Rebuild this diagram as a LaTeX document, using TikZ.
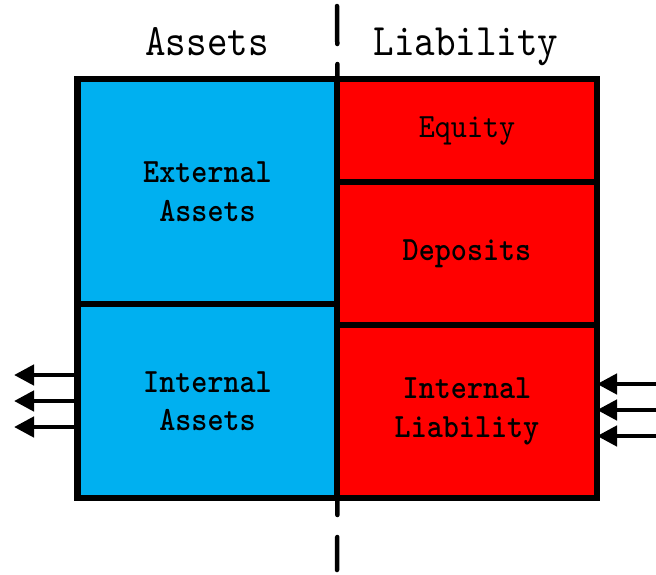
\documentclass[tikz,border=0pt]{standalone}
\usepackage{fontspec}
\newfontfamily\sheetfont{lmmono10-regular.otf}[BoldFont=lmmonolt10-bold.otf, FakeStretch=0.9]
\newfontfamily\headfont{lmmono10-regular.otf}[FakeStretch=0.87]
\usetikzlibrary{arrows.meta}
\definecolor{assetblue}{HTML}{00B0F0}
\definecolor{liabred}{HTML}{FF0000}

\begin{document}
\begin{tikzpicture}
      [
        x=1pt, y=-1pt,
        block/.style={draw=black, line width=6.5pt, rectangle, inner sep=0pt,
          outer sep=0pt, align=center, minimum width=260pt,
          font=\sheetfont\fontsize{34}{38.5}\selectfont},
        head/.style={anchor=base, font=\headfont\fontsize{45}{50}\selectfont},
        flow/.style={line width=4.5pt, -{Triangle[length=20pt,width=20pt]}}
      ]
      \useasboundingbox (0,0) rectangle (656,574);
      % assets side
      \node [block, fill=assetblue, minimum height=225pt] (extassets)
        at (207.5,191.5) {\bfseries External\\\bfseries Assets};
      \node [block, fill=assetblue, minimum height=194pt] (intassets)
        at (207.5,401) {\bfseries Internal\\\bfseries Assets};
      % liability side
      \node [block, fill=liabred, minimum height=103pt] (equity)
        at (467,130.5) {Equity};
      \node [block, fill=liabred, minimum height=143pt] (deposits)
        at (467,253.5) {\bfseries Deposits};
      \node [block, fill=liabred, minimum height=173pt] (intliab)
        at (467,411.5) {\bfseries Internal\\\bfseries Liability};
      % headings
      \node [head] (assets) at (207,55) {Assets};
      \node [head] (liab) at (466,55) {Liability};
      % dashed divider
      \draw [line width=4.5pt, line cap=round, dash pattern=on 38pt off 20pt]
        (337,6) -- (extassets.north east);
      \draw [line width=4.5pt, line cap=round, dash pattern=on 17pt off 22pt on 40pt]
        (intassets.south east) -- (337,570);
      % outgoing and incoming flows
      \foreach \n/\y in {1/375,2/401,3/427} {
          \coordinate (out\n) at (14,\y);
          \draw [flow] (out\n -| intassets.west) -- (out\n);
      }
      \foreach \n/\y in {1/384,2/410,3/436} {
          \coordinate (in\n) at (656,\y);
          \draw [flow] (in\n) -- (in\n -| intliab.east);
      }
      \end{tikzpicture}
\end{document}
